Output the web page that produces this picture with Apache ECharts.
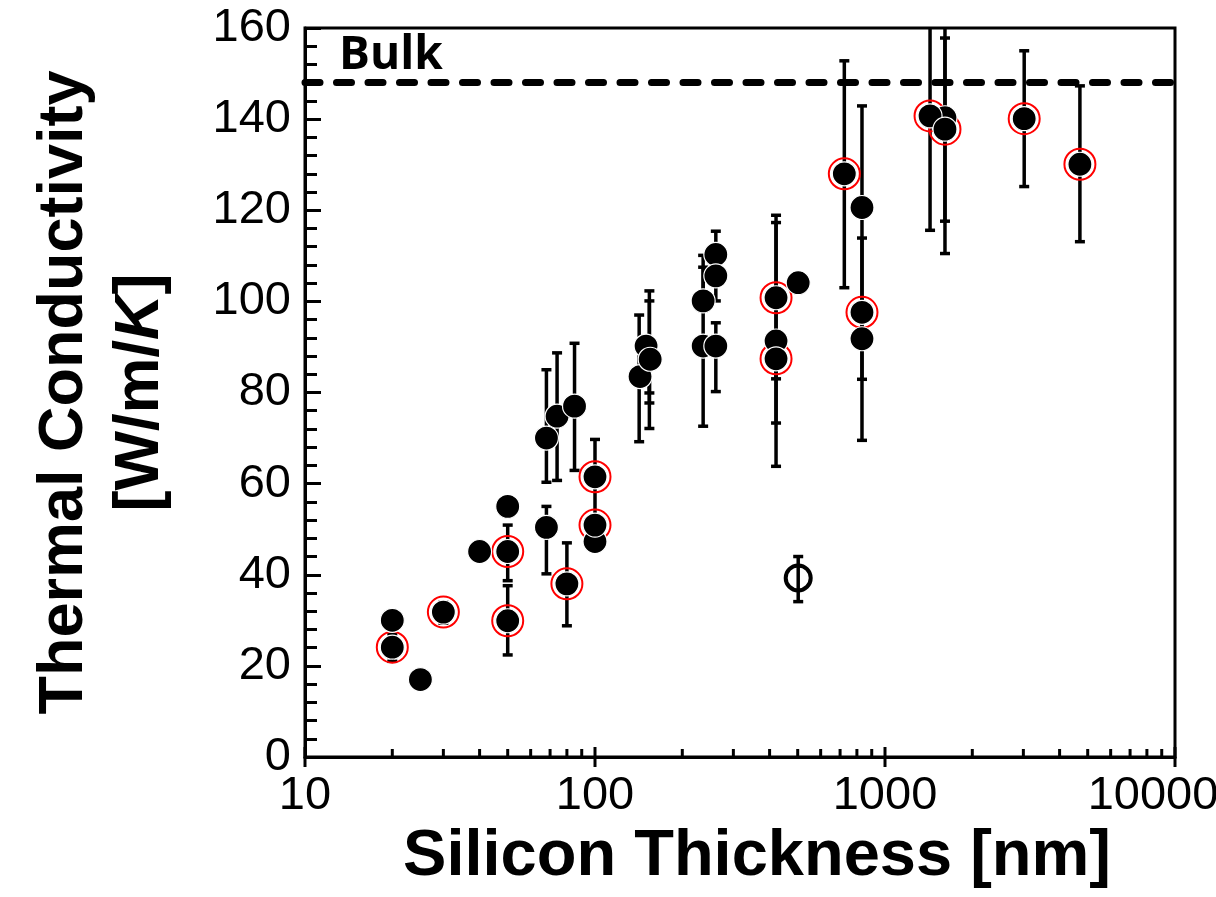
<!DOCTYPE html>
<html>
<head>
<meta charset="utf-8">
<script src="https://cdn.jsdelivr.net/npm/echarts@6/dist/echarts.min.js"></script>
<style>
  html, body { margin: 0; padding: 0; background: #fff; }
  #chart { width: 1216px; height: 897px; }
</style>
</head>
<body>
<div id="chart"></div>
<script>
// plain black points [thickness nm, k W/m/K]
const filledPoints = [
  [20, 30], [25, 17], [40, 45.1], [50, 55], [68, 50.4], [68, 70], [74, 74.8], [85, 77],
  [100, 47.3], [143, 83.5], [150, 90.2], [155, 87.3], [236, 100.1], [236, 90.2],
  [261, 110.3], [261, 105.6], [261, 90.2], [421, 91.3], [502, 104.1], [833, 120.6],
  [833, 91.8], [1610, 140.3]
];
// black points with a red ring
const ringedPoints = [
  [20, 24.1], [30, 31.8], [50, 45.1], [50, 29.9], [80, 38], [100, 61.5], [100, 50.9],
  [421, 100.8], [421, 87.4], [724, 128], [833, 97.6], [1430, 140.7], [1610, 137.8],
  [3020, 140.1], [4700, 130.1]
];
// open marker
const openPoints = [[502, 39.3]];
// error bars [x, low, high]
const errorBars = [
  [20, 21, 27], [30, 29.4, 34], [50, 38.7, 50.9], [50, 22.4, 37.6], [68, 40.2, 55],
  [68, 60.3, 85], [74, 60.7, 88.7], [80, 28.8, 47], [85, 62.9, 90.8], [100, 51, 69.7],
  [142, 69.2, 97], [154, 72.1, 102.3], [154, 77.7, 100.1], [154, 79.9, 90],
  [236, 72.6, 107.5], [236, 100.1, 110.1], [261, 100.1, 115.4], [261, 80.2, 95.3],
  [421, 83, 118.9], [421, 63.8, 87.4], [421, 73.3, 117.3], [724, 103, 152.8],
  [833, 82.9, 142.9], [833, 69.5, 113.9], [1430, 115.6, 175], [1610, 117.6, 157.8],
  [1610, 110.5, 175], [3020, 125.2, 155], [4700, 113.1, 147.3], [502, 34.1, 44]
];
const bulkValue = 148;
const xMajorTicks = [10, 100, 1000, 10000];
const xMinorTicks = [
  20, 30, 40, 50, 60, 70, 80, 90,
  200, 300, 400, 500, 600, 700, 800, 900,
  2000, 3000, 4000, 5000, 6000, 7000, 8000, 9000
];

const font = 'Arial, "Liberation Sans", sans-serif';
const chart = echarts.init(document.getElementById('chart'));

chart.setOption({
  animation: false,
  backgroundColor: '#fff',
  grid: {
    left: 305, right: 41, top: 28, bottom: 140,
    outerBoundsMode: 'none',
    containLabel: false,
    show: true, borderColor: '#000', borderWidth: 3
  },
  xAxis: {
    type: 'log',
    logBase: 10,
    min: 10,
    max: 10000,
    name: 'Silicon Thickness [nm]',
    nameLocation: 'middle',
    nameGap: 49,
    nameTextStyle: {
      fontFamily: font, fontSize: 65, fontWeight: 'bold', color: '#000',
      padding: [0, 0, 0, 34]
    },
    axisLine: { lineStyle: { color: '#000', width: 3 } },
    axisTick: { show: false },
    axisLabel: {
      fontFamily: font, fontSize: 47, color: '#000', margin: 16,
      // the last label is pulled left so that it stays on the page
      formatter: v => {
        const s = String(Math.round(v));
        return v >= 10000 ? '{last|' + s + '}' : s;
      },
      rich: {
        last: { fontFamily: font, fontSize: 47, color: '#000', padding: [0, 44, 0, 0] }
      }
    },
    splitLine: { show: false }
  },
  yAxis: {
    type: 'value',
    min: 0,
    max: 160,
    interval: 20,
    name: '{a|Thermal Conductivity}\n{a|[W/m/}{i|K}{a|]}',
    nameLocation: 'middle',
    nameRotate: 90,
    nameGap: 126,
    nameTextStyle: {
      rich: {
        a: { fontFamily: font, fontSize: 63, fontWeight: 'bold', color: '#000', lineHeight: 76 },
        i: { fontFamily: font, fontSize: 63, fontWeight: 'bold', fontStyle: 'italic', color: '#000', lineHeight: 76 }
      }
    },
    axisLine: { show: true, lineStyle: { color: '#000', width: 3 } },
    axisTick: { show: true, inside: true, length: 16, lineStyle: { color: '#000', width: 3 } },
    minorTick: { show: true, splitNumber: 5, length: 12, lineStyle: { color: '#000', width: 3 } },
    axisLabel: { fontFamily: font, fontSize: 47, color: '#000', margin: 14 },
    splitLine: { show: false }
  },
  series: [
    {
      // x axis ticks, drawn through the log scale
      type: 'custom',
      silent: true,
      clip: false,
      z: 1,
      data: xMajorTicks.map(v => [v, 1]).concat(xMinorTicks.map(v => [v, 0])),
      renderItem: (params, api) => {
        const p = api.coord([api.value(0), 0]);
        const major = api.value(1) === 1;
        return {
          type: 'line',
          shape: { x1: p[0], y1: major ? p[1] + 10 : p[1], x2: p[0], y2: major ? p[1] - 10 : p[1] - 8 },
          style: { stroke: '#000', lineWidth: 3 }
        };
      }
    },
    {
      type: 'custom',
      name: 'error',
      silent: true,
      clip: true,
      z: 2,
      data: errorBars,
      renderItem: (params, api) => {
        const lo = api.coord([api.value(0), api.value(1)]);
        const hi = api.coord([api.value(0), api.value(2)]);
        const w = 5;
        const st = { stroke: '#000', lineWidth: 3.5 };
        return {
          type: 'group',
          children: [
            { type: 'line', shape: { x1: lo[0], y1: lo[1], x2: hi[0], y2: hi[1] }, style: st },
            { type: 'line', shape: { x1: lo[0] - w, y1: lo[1], x2: lo[0] + w, y2: lo[1] }, style: st },
            { type: 'line', shape: { x1: hi[0] - w, y1: hi[1], x2: hi[0] + w, y2: hi[1] }, style: st }
          ]
        };
      }
    },
    {
      type: 'scatter',
      name: 'ring',
      z: 3,
      symbol: 'circle',
      symbolSize: 31,
      itemStyle: { color: 'transparent', borderColor: '#ff0000', borderWidth: 2, opacity: 1 },
      data: ringedPoints
    },
    {
      type: 'scatter',
      name: 'points',
      z: 4,
      symbol: 'circle',
      symbolSize: 24,
      itemStyle: { color: '#000', borderColor: '#fff', borderWidth: 1.2, opacity: 1 },
      data: filledPoints.concat(ringedPoints),
      markLine: {
        silent: true,
        symbol: ['none', 'none'],
        lineStyle: { color: '#000', width: 7, type: [15, 16.5], cap: 'round', opacity: 1 },
        label: {
          show: true,
          position: 'insideStartTop',
          formatter: 'Bulk',
          fontFamily: '"Open Sans", sans-serif',
          fontSize: 46,
          fontWeight: 'bold',
          color: '#000',
          distance: [34, 4]
        },
        data: [{ yAxis: bulkValue }]
      }
    },
    {
      type: 'scatter',
      name: 'open',
      z: 4,
      symbol: 'circle',
      symbolSize: 25,
      itemStyle: { color: 'transparent', borderColor: '#000', borderWidth: 4, opacity: 1 },
      data: openPoints
    }
  ]
});
</script>
</body>
</html>
